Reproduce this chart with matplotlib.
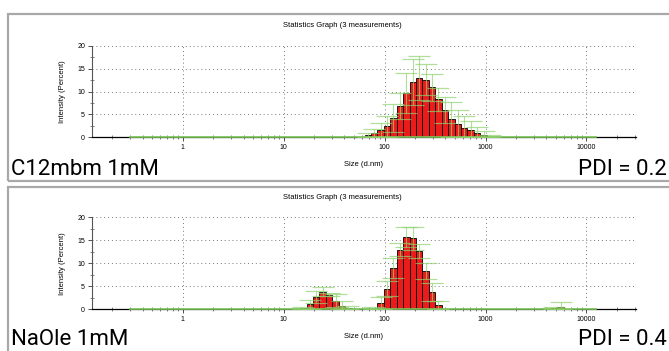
import numpy as np
import matplotlib.pyplot as plt
from matplotlib.patches import Rectangle
from matplotlib.ticker import LogLocator, FixedLocator, NullFormatter

# size classes (d.nm) and mean intensity (%) with standard deviation, 3 runs
c12_size = [68.06, 78.82, 91.28, 105.7, 122.4, 141.8, 164.2, 190.1, 220.2, 255.0,
            295.3, 342.0, 396.1, 458.7, 531.2, 615.1, 712.4, 825.0, 955.4, 1106]
c12_int = [0.4, 0.9, 1.5, 2.4, 4.2, 6.8, 9.7, 12.0, 13.0, 12.6,
           10.9, 8.3, 5.9, 3.9, 2.9, 2.1, 1.6, 1.0, 0.5, 0.1]
c12_sd = [0.6, 1.0, 1.7, 2.3, 3.0, 2.8, 4.4, 5.0, 4.8, 3.3,
          3.0, 2.5, 2.8, 3.8, 3.0, 2.6, 1.9, 1.3, 0.8, 0.3]

naole_size = [15.69, 18.17, 21.04, 24.36, 28.21, 32.67, 37.84, 43.82,
              78.82, 91.28, 105.7, 122.4, 141.8, 164.2, 190.1, 220.2, 255.0, 295.3, 342.0,
              4801, 5560]
naole_int = [0.2, 1.1, 2.7, 3.8, 3.2, 1.9, 0.8, 0.3,
             0.1, 1.4, 4.5, 8.9, 13.0, 15.7, 15.4, 12.7, 8.3, 3.8, 0.9,
             0.2, 0.6]
naole_sd = [0.4, 1.0, 1.3, 1.0, 0.4, 1.4, 1.1, 0.5,
            0.3, 1.3, 1.7, 2.2, 1.4, 2.2, 2.4, 1.5, 1.8, 1.9, 0.9,
            0.4, 1.0]

panels = [
    ("C12mbm 1mM", "PDI = 0.2", c12_size, c12_int, c12_sd),
    ("NaOle 1mM", "PDI = 0.4", naole_size, naole_int, naole_sd),
]

# class width of the 70-bin 0.4-10000 nm grid
step = 10 ** (np.log10(10000 / 0.4) / 69)

W, H = 669, 351
fig = plt.figure(figsize=(W / 100, H / 100), dpi=100)

tick_font = dict(family="Liberation Sans", size=5)
frames = [(14, 181), (187, 360)]
axes_pos = [(137.3, 45.7), (309.3, 217.3)]
label_base = [175, 345]

for (name, pdi, size, inten, sd), (ft, fb), (y0, y20), yb in zip(panels, frames, axes_pos, label_base):
    # grey panel frame
    fig.patches.append(Rectangle((8 / W, 1 - fb / H), 1, (fb - ft) / H,
                                 transform=fig.transFigure, fill=False,
                                 edgecolor="#a8a8a8", linewidth=1.6))

    ax = fig.add_axes([92 / W, 1 - y0 / H, (636 - 92) / W, (y0 - y20) / H])
    ax.set_xscale("log")
    ax.set_xlim(0.126, 31000)
    ax.set_ylim(0, 20)

    size = np.array(size)
    lo = size / np.sqrt(step)
    hi = size * np.sqrt(step)
    ax.bar(lo, inten, width=hi - lo, align="edge", color="#ec1b1b",
           edgecolor="black", linewidth=0.6, zorder=3)

    # baseline of the size distribution
    ax.plot([0.3, 12500], [0, 0], color="#7cc65a", linewidth=1.2,
            zorder=4, clip_on=False)

    lower = np.minimum(np.array(sd), np.array(inten))
    ax.errorbar(size, inten, yerr=[lower, sd], fmt="none", ecolor="#8fd26e",
                elinewidth=0.8, capsize=8, capthick=0.9, alpha=0.7, zorder=5)

    for s in ["top", "right"]:
        ax.spines[s].set_visible(False)
    ax.spines["left"].set_color("#555555")
    ax.spines["left"].set_linewidth(0.8)
    ax.spines["bottom"].set_linewidth(0.9)

    ax.xaxis.set_major_locator(FixedLocator([1, 10, 100, 1000, 10000]))
    ax.xaxis.set_minor_locator(LogLocator(base=10, subs=np.arange(2, 10), numticks=20))
    ax.xaxis.set_minor_formatter(NullFormatter())
    ax.set_xticklabels(["1", "10", "100", "1000", "10000"], **tick_font)
    ax.set_yticks([0, 5, 10, 15, 20])
    ax.set_yticks(np.arange(0, 20, 2.5), minor=True)
    ax.set_yticklabels(["0", "5", "10", "15", "20"], **tick_font)
    ax.tick_params(which="major", length=3, width=0.6, pad=2, color="#333333")
    ax.tick_params(which="minor", direction="inout", length=3, width=0.5, color="#555555")

    ax.grid(which="major", linestyle=(0, (1, 3)), color="#777777", linewidth=0.7)
    ax.set_axisbelow(True)

    ax.set_xlabel("Size (d.nm)", family="Liberation Sans", size=5.5, labelpad=7)
    ax.set_ylabel("Intensity (Percent)", family="Liberation Sans", size=5.5, labelpad=8)
    ax.text(0.46, 1.22, "Statistics Graph (3 measurements)",
            transform=ax.transAxes, ha="center", va="center",
            family="Liberation Sans", size=5.5)

    fig.text(11 / W, 1 - yb / H, name, family="Roboto", size=16,
             ha="left", va="baseline")
    fig.text(667 / W, 1 - yb / H, pdi, family="Roboto", size=16,
             ha="right", va="baseline")

fig.savefig("out.png", dpi=100)
